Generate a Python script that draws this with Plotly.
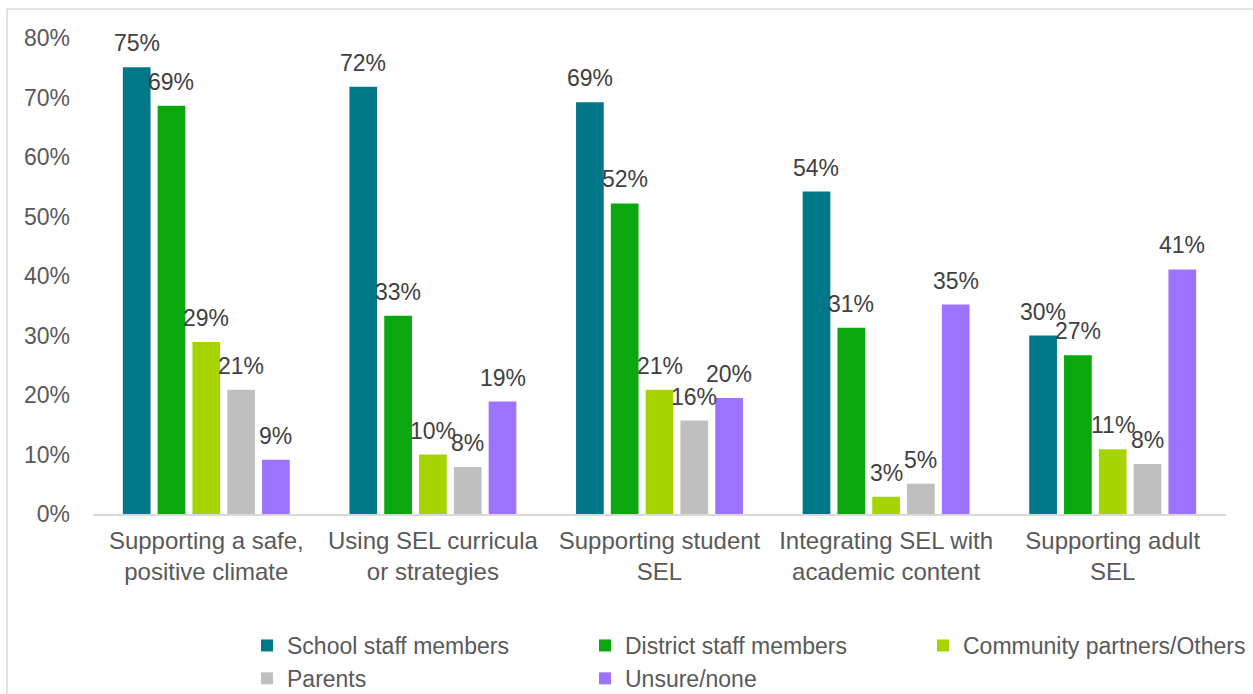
import plotly.graph_objects as go

categories = ["Supporting a safe,<br>positive climate", "Using SEL curricula<br>or strategies",
              "Supporting student<br>SEL", "Integrating SEL with<br>academic content",
              "Supporting adult<br>SEL"]
series_names = ["School staff members", "District staff members", "Community partners/Others",
                "Parents", "Unsure/none"]
school = [75.1, 71.8, 69.2, 54.2, 30.0]
district = [68.6, 33.3, 52.2, 31.3, 26.7]
community = [28.9, 10.0, 20.9, 2.9, 10.9]
parents = [20.9, 7.9, 15.7, 5.1, 8.4]
unsure = [9.1, 18.9, 19.5, 35.2, 41.1]
y_ticks = [0, 10, 20, 30, 40, 50, 60, 70, 80]
y_tick_labels = [f"{v}%" for v in y_ticks]

series_values = [school, district, community, parents, unsure]
colors = ["#00788A", "#0AA70F", "#A6D400", "#BFBFBF", "#9D72FF"]

FONT = "Liberation Sans, Arial, sans-serif"
BARGAP = 0.232
GROUPGAP = 0.204

W, H = 1253, 694
ML, MR, MT, MB = 93, 27, 38, 180
PW, PH = W - ML - MR, H - MT - MB

fig = go.Figure()
for name, vals, col in zip(series_names, series_values, colors):
    fig.add_trace(go.Bar(name=name, x=categories, y=vals, marker_color=col,
                         marker_line_width=0))

# data labels above bars (placed via axis coordinates)
n = len(series_values)
slot = (1 - BARGAP) / n
annotations = []
for i, vals in enumerate(series_values):
    for j, v in enumerate(vals):
        annotations.append(dict(
            x=j + (i - (n - 1) / 2) * slot, y=v, xref="x", yref="y",
            text=f"{round(v)}%", showarrow=False, yanchor="bottom", xanchor="center",
            yshift=9, font=dict(family=FONT, size=23, color="#404040")))

fig.update_layout(
    width=W, height=H,
    margin=dict(l=ML, r=MR, t=MT, b=MB, pad=0, autoexpand=False),
    paper_bgcolor="white", plot_bgcolor="white",
    barmode="group", bargap=BARGAP, bargroupgap=GROUPGAP,
    font=dict(family=FONT, size=24, color="#595959"),
    annotations=annotations,
    showlegend=True,
    legend=dict(orientation="h", x=(247 - ML) / PW, xanchor="left",
                y=(MT + PH - 624) / PH, yanchor="top",
                entrywidth=293, entrywidthmode="pixels",
                font=dict(family=FONT, size=23, color="#595959"),
                bgcolor="rgba(0,0,0,0)", borderwidth=0, traceorder="normal"),
    shapes=[dict(type="rect", xref="paper", yref="paper",
                 x0=(7 - ML) / PW, x1=1.3, y0=-1.0, y1=(MT + PH - 9) / PH,
                 line=dict(color="#D9D9D9", width=1.5), fillcolor="rgba(0,0,0,0)",
                 layer="below")],
)
fig.update_xaxes(showline=True, linecolor="#D9D9D9", linewidth=1.5, ticks="",
                 showgrid=False, zeroline=False, tickangle=0, automargin=False,
                 ticklabelstandoff=4,
                 tickfont=dict(family=FONT, size=24, color="#595959"))
fig.update_yaxes(range=[0, 80], tickvals=y_ticks, ticktext=y_tick_labels,
                 showgrid=False, automargin=False,
                 zeroline=False, showline=False, ticks="", ticklabelstandoff=22,
                 tickfont=dict(family=FONT, size=23, color="#595959"))

fig.write_html("out.html")
